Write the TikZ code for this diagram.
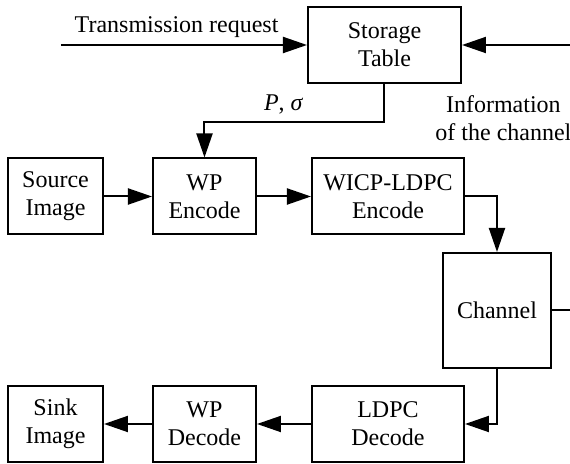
\documentclass[tikz,border=0pt]{standalone}
\usepackage{fontspec}
\setmainfont{Liberation Serif}
\usetikzlibrary{positioning, arrows.meta}
\tikzstyle{block} = [rectangle, minimum height=38pt, text centered, align=center, draw=black, line width=1pt, inner sep=2pt]
\tikzstyle{arrow} = [line width=1pt, -{Triangle[length=12pt, width=8pt]}]
\tikzstyle{wire} = [line width=1pt]

\begin{document}
\begin{tikzpicture}[node distance=74.5pt, font=\fontsize{12}{14}\selectfont]
        \useasboundingbox (0,0) rectangle (285pt,-232pt);
        % Nodes
        \node (source) [block, minimum width=47.5pt] at (27.75pt,-98.25pt) {Source\\Image};
        \node (wpenc) [block, minimum width=51.5pt, right of=source] {WP\\Encode};
        \node (wicp) [block, minimum width=76pt, right of=wpenc, xshift=17.25pt] {WICP-LDPC\\Encode};
        \node (storage) [block, minimum width=76.5pt, above of=wicp, xshift=-1.75pt, yshift=1.25pt] {Storage\\Table};
        \node (channel) [block, minimum width=54pt, minimum height=57.5pt, right of=wicp, xshift=-20pt, yshift=-57pt] {Channel};
        \node (sink) [block, minimum width=47.5pt, below of=source, yshift=-39.25pt] {Sink\\Image};
        \node (wpdec) [block, minimum width=51.5pt, below of=wpenc, yshift=-39.25pt] {WP\\Decode};
        \node (ldpc) [block, minimum width=76pt, below of=wicp, yshift=-39.25pt] {LDPC\\Decode};

        % Loose ends
        \coordinate (reqin) at ([xshift=-123pt]storage.west);
        \coordinate (infoin) at ([xshift=54.5pt]storage.east);
        \coordinate (chout) at ([xshift=9.5pt]channel.east);

        % Arrows
        \draw [arrow] (reqin) -- (storage) node[pos=0.47, above] {Transmission request};
        \draw [arrow] (infoin) -- (storage) node[pos=0.62, below=21.5pt, align=center] {Information\\of the channel};
        \draw [arrow] (storage.south) -- ++(0,-19pt) -| (wpenc.north) node[pos=0.28, above] {\textit{P}, \textit{σ}};
        \draw [arrow] (source) -- (wpenc);
        \draw [arrow] (wpenc) -- (wicp);
        \draw [arrow] (wicp.east) -| (channel.north);
        \draw [wire] (channel.east) -- (chout);
        \draw [arrow] (channel.south) |- (ldpc.east);
        \draw [arrow] (ldpc) -- (wpdec);
        \draw [arrow] (wpdec) -- (sink);
    \end{tikzpicture}
\end{document}
